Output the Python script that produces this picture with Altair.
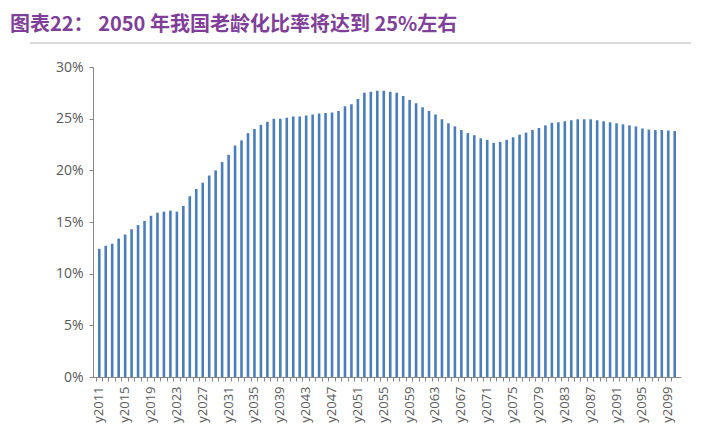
import altair as alt
import pandas as pd

years = [f"y{y}" for y in range(2011, 2101)]
ratios = [
    12.4, 12.7, 12.9, 13.4, 13.8, 14.3, 14.7, 15.1, 15.6, 15.9,   # 2011-2020
    16.0, 16.1, 16.0, 16.55, 17.5, 18.2, 18.8, 19.5, 20.0, 20.8,  # 2021-2030
    21.5, 22.4, 22.9, 23.6, 24.0, 24.4, 24.7, 25.0, 25.0, 25.1,   # 2031-2040
    25.2, 25.2, 25.3, 25.4, 25.5, 25.55, 25.6, 25.75, 26.2, 26.4, # 2041-2050
    26.9, 27.5, 27.6, 27.7, 27.7, 27.6, 27.5, 27.2, 26.8, 26.5,   # 2051-2060
    26.1, 25.75, 25.4, 24.95, 24.55, 24.25, 23.9, 23.6, 23.4, 23.1,  # 2061-2070
    22.95, 22.65, 22.75, 22.95, 23.2, 23.45, 23.65, 23.9, 24.1, 24.35,  # 2071-2080
    24.6, 24.65, 24.75, 24.85, 24.95, 24.95, 24.95, 24.85, 24.75, 24.65,  # 2081-2090
    24.55, 24.45, 24.35, 24.25, 24.05, 23.95, 23.9, 23.9, 23.85, 23.8,  # 2091-2100
]
y_ticks = [0, 0.05, 0.10, 0.15, 0.20, 0.25, 0.30]
title_text = "图表22：  2050 年我国老龄化比率将达到 25%左右"

assert len(years) == len(ratios)
df = pd.DataFrame({"year": years, "ratio": [v / 100 for v in ratios]})

axis_grey = "#868686"
label_grey = "#595959"

bars = alt.Chart(df).mark_bar(size=2.6, color="#4A7EBB").encode(
    x=alt.X(
        "year:N",
        sort=None,
        scale=alt.Scale(paddingInner=0, paddingOuter=0.47),
        axis=alt.Axis(
            title=None,
            labelAngle=-90,
            labelAlign="right",
            labelBaseline="middle",
            labelExpr="(toNumber(slice(datum.value, 1)) - 2011) % 4 == 0 ? datum.value : ''",
            labelOverlap=False,
            bandPosition=0,
            tickSize=4,
            tickColor=axis_grey,
            domainColor=axis_grey,
            labelFont="Open Sans",
            labelFontSize=13,
            labelColor=label_grey,
            labelPadding=5,
        ),
    ),
    y=alt.Y(
        "ratio:Q",
        scale=alt.Scale(domain=[0, 0.3], nice=False),
        axis=alt.Axis(
            title=None,
            format=".0%",
            values=y_ticks,
            grid=False,
            tickSize=4,
            tickColor=axis_grey,
            domainColor=axis_grey,
            labelFont="Open Sans",
            labelFontSize=14,
            labelColor=label_grey,
            labelPadding=6,
        ),
    ),
)

rule = alt.Chart(pd.DataFrame({"a": [0]})).mark_rule(color="#d9d9d9", strokeWidth=2).encode(
    x=alt.value(-63), x2=alt.value(610), y=alt.value(-24)
)

chart = alt.layer(bars, rule).properties(
    width=588,
    height=310,
    autosize=alt.AutoSizeParams(type="none"),
    padding={"left": 85, "top": 59, "right": 10, "bottom": 46},
    title=alt.TitleParams(
        text=title_text,
        anchor="start",
        frame="group",
        dx=-83,
        dy=24,
        offset=15,
        baseline="alphabetic",
        font="Noto Sans CJK SC",
        fontSize=20,
        fontWeight="bold",
        color="#7F3F98",
    ),
).configure(background="white", view=alt.ViewConfig(stroke=None))

chart.save("out.html", embed_options={"renderer": "svg", "actions": False})
